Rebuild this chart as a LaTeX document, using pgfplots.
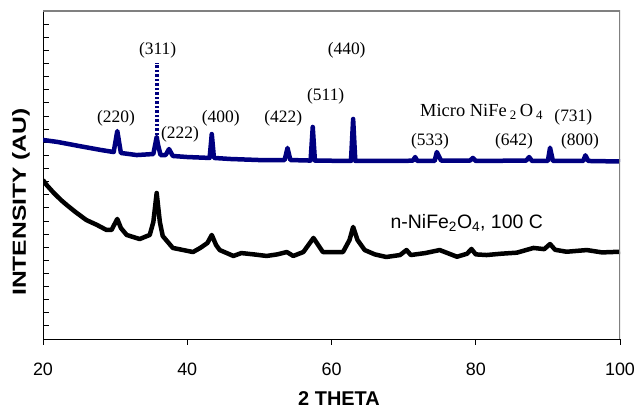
\documentclass[border=0pt]{standalone}
\usepackage{fontspec}
\setmainfont{Liberation Serif}
\setsansfont{Liberation Sans}
\usepackage{pgfplots}
\pgfplotsset{compat=1.18}
\definecolor{navy}{RGB}{0,0,128}
\definecolor{framegray}{RGB}{128,128,128}

\begin{document}
\begin{tikzpicture}
\begin{axis}[
    name=ax,
    scale only axis,
    width=577bp, height=328bp,
    xmin=20, xmax=100, ymin=0, ymax=25,
    axis x line*=bottom, axis y line*=left,
    axis line style={black, line width=0.9bp},
    xtick={20,40,...,100}, ytick={0,1,...,25}, yticklabels={},
    tick align=inside, major tick length=5.5bp,
    tick style={black, line width=0.8bp},
    xtick style={yshift=-5.5bp},
    ticklabel style={font=\sffamily\fontsize{18}{18}\selectfont},
    /pgf/number format/assume math mode=true,
    xticklabel style={yshift=-20bp},
]

% micro NiFe2O4
\addplot[navy, line width=4.5bp, line join=round] coordinates {
    (20,15.17) (22,15.02) (25,14.71) (28,14.41) (29.8,14.25) (30.3,15.85) (30.8,14.18)
    (33,14.02) (35.3,14.10) (35.55,14.8) (35.76,15.4) (35.95,14.8) (36.3,14.02) (37.0,14.02)
    (37.47,14.48) (38.0,13.95) (40,13.87) (43.1,13.80) (43.4,15.62) (43.7,13.80)
    (46,13.72) (50,13.64) (53.5,13.64) (53.9,14.56) (54.3,13.64) (57.1,13.60) (57.4,16.16)
    (57.7,13.60) (62.7,13.57) (63.0,16.77) (63.3,13.57) (70,13.57) (71.3,13.60) (71.6,13.87) (71.9,13.57)
    (74.3,13.57) (74.6,14.25) (75.2,13.60) (79.2,13.60) (79.6,13.80) (80.0,13.57) (87,13.60) (87.4,13.87)
    (87.8,13.57) (90.0,13.57) (90.3,14.58) (90.7,13.57) (94.9,13.57) (95.2,14.00) (95.6,13.57) (100,13.53)
};
\addplot[navy, line width=4bp, dash pattern=on 2.5bp off 2bp] coordinates {
    (35.76,15.2) (35.76,21.04)
};

% n-NiFe2O4, 100 C
\addplot[black, line width=4.5bp, line join=round] coordinates {
    (20.0,12.12) (20.5,11.74) (21.5,11.13) (22.5,10.59) (23.3,10.21) (24.5,9.68) (26.0,9.07)
    (27.5,8.69) (28.8,8.31) (29.5,8.31) (30.3,9.15) (30.8,8.46) (31.6,7.93) (33.4,7.62)
    (34.8,7.93) (35.3,8.92) (35.76,11.13) (36.2,8.92) (36.6,7.85) (38.0,6.94) (40.8,6.63)
    (41.8,6.94) (42.8,7.32) (43.4,7.93) (44.0,7.16) (44.5,6.78) (46.4,6.33) (47.5,6.55) (49.2,6.45)
    (51.0,6.33) (52.5,6.45) (53.8,6.63) (54.7,6.33) (56.1,6.63) (57.5,7.70) (58.8,6.63) (61.6,6.63)
    (62.5,7.55) (63.0,8.54) (63.6,7.55) (64.6,6.78) (66.0,6.45) (67.6,6.25) (69.5,6.40) (70.4,6.78)
    (71.0,6.40) (73.0,6.55) (75.0,6.78) (77.4,6.27) (78.8,6.50) (79.4,6.86) (80.0,6.45) (81.5,6.40)
    (83.5,6.50) (85.7,6.58) (88.0,6.94) (89.5,6.85) (90.3,7.24) (91.0,6.80) (92.6,6.65)
    (95.4,6.78) (97.5,6.60) (100,6.65)
};

\draw[framegray, line width=1.3bp] (rel axis cs:0,1) -- (rel axis cs:1,1) -- (rel axis cs:1,0);

\begin{scope}[every node/.style={font=\fontsize{17.5}{17.5}\selectfont, inner sep=0pt}]
\node at (axis cs:30.12,16.84) {(220)};
\node at (axis cs:35.9,22.03) {(311)};
\node at (axis cs:39.0,15.63) {(222)};
\node at (axis cs:44.64,16.84) {(400)};
\node at (axis cs:53.32,16.84) {(422)};
\node at (axis cs:59.2,18.47) {(511)};
\node at (axis cs:62.1,22.03) {(440)};
\node at (axis cs:73.66,15.09) {(533)};
\node at (axis cs:85.3,15.09) {(642)};
\node at (axis cs:93.53,16.9) {(731)};
\node at (axis cs:94.45,15.09) {(800)};
\node[font=\fontsize{18.5}{18.5}\selectfont] at (axis cs:80.82,17.32) {Micro NiFe\,\textsubscript{2}\,O\,\textsubscript{4}};
\end{scope}
\node[font=\sffamily\fontsize{19.5}{19.5}\selectfont, inner sep=0pt] at (axis cs:78.75,8.86) {n-NiFe\textsubscript{2}O\textsubscript{4}, 100 C};
\end{axis}

\node[font=\sffamily\bfseries\fontsize{20}{20}\selectfont] at ([shift={(7.5bp,-60bp)}]ax.south) {2 THETA};
\node[font=\sffamily\bfseries\fontsize{19}{19}\selectfont, rotate=90] at ([shift={(-22bp,-27bp)}]ax.west) {\scalebox{1.3}[1]{INTENSITY (AU)}};

\pgfresetboundingbox
\useasboundingbox ([shift={(-43bp,-71bp)}]ax.south west) rectangle ([shift={(17bp,11bp)}]ax.north east);
\end{tikzpicture}
\end{document}
